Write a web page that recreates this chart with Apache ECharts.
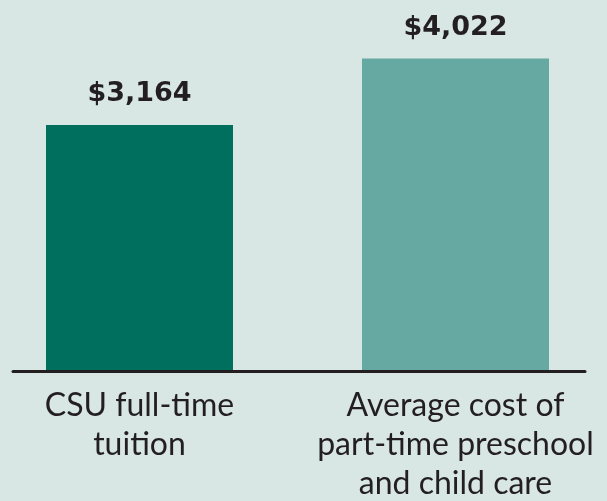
<!DOCTYPE html>
<html>
<head>
<meta charset="utf-8">
<script src="https://cdn.jsdelivr.net/npm/echarts@6/dist/echarts.min.js"></script>
<style>
  html, body { margin: 0; padding: 0; background: #d8e7e3; }
  #chart { width: 607px; height: 501px; }
</style>
</head>
<body>
<div id="chart"></div>
<script>
var categories = ['CSU full-time\ntuition', 'Average cost of\npart-time preschool\nand child care']
var costs = [3164, 4022]
var barColors = ['#006f5d', '#65a9a2']

var myChart = echarts.init(document.getElementById('chart'))

var option = {
  backgroundColor: '#d8e7e3',
  animation: false,
  textStyle: { fontFamily: 'Lato', color: '#231f20' },
  grid: [
    // bars
    { left: -18.5, right: -6.5, top: 21.5, bottom: 131, outerBoundsMode: 'none' },
    // only for the baseline
    { left: 13, right: 22, top: 21.5, bottom: 129.5, outerBoundsMode: 'none' }
  ],
  xAxis: [
    {
      type: 'category',
      gridIndex: 0,
      data: categories,
      axisLine: { show: false },
      axisTick: { show: false },
      axisLabel: {
        interval: 0,
        margin: 16,
        fontSize: 32,
        lineHeight: 39,
        color: '#231f20',
        fontFamily: 'Lato'
      }
    },
    {
      type: 'category',
      gridIndex: 1,
      data: categories,
      axisLine: { show: true, lineStyle: { color: '#231f20', width: 3 } },
      axisTick: { show: false },
      axisLabel: { show: false }
    }
  ],
  yAxis: [
    { type: 'value', gridIndex: 0, min: 0, max: 4500, show: false },
    { type: 'value', gridIndex: 1, min: 0, max: 4500, show: false }
  ],
  series: [
    {
      type: 'bar',
      xAxisIndex: 0,
      yAxisIndex: 0,
      barWidth: 187,
      data: costs.map(function (v, i) {
        return { value: v, itemStyle: { color: barColors[i] } }
      }),
      label: {
        show: true,
        position: 'top',
        distance: 17,
        fontSize: 27,
        fontWeight: 'bold',
        fontFamily: 'DejaVu Sans',
        color: '#231f20',
        formatter: function (p) {
          return '$' + p.value.toLocaleString('en-US')
        }
      }
    }
  ]
}

myChart.setOption(option)
</script>
</body>
</html>
